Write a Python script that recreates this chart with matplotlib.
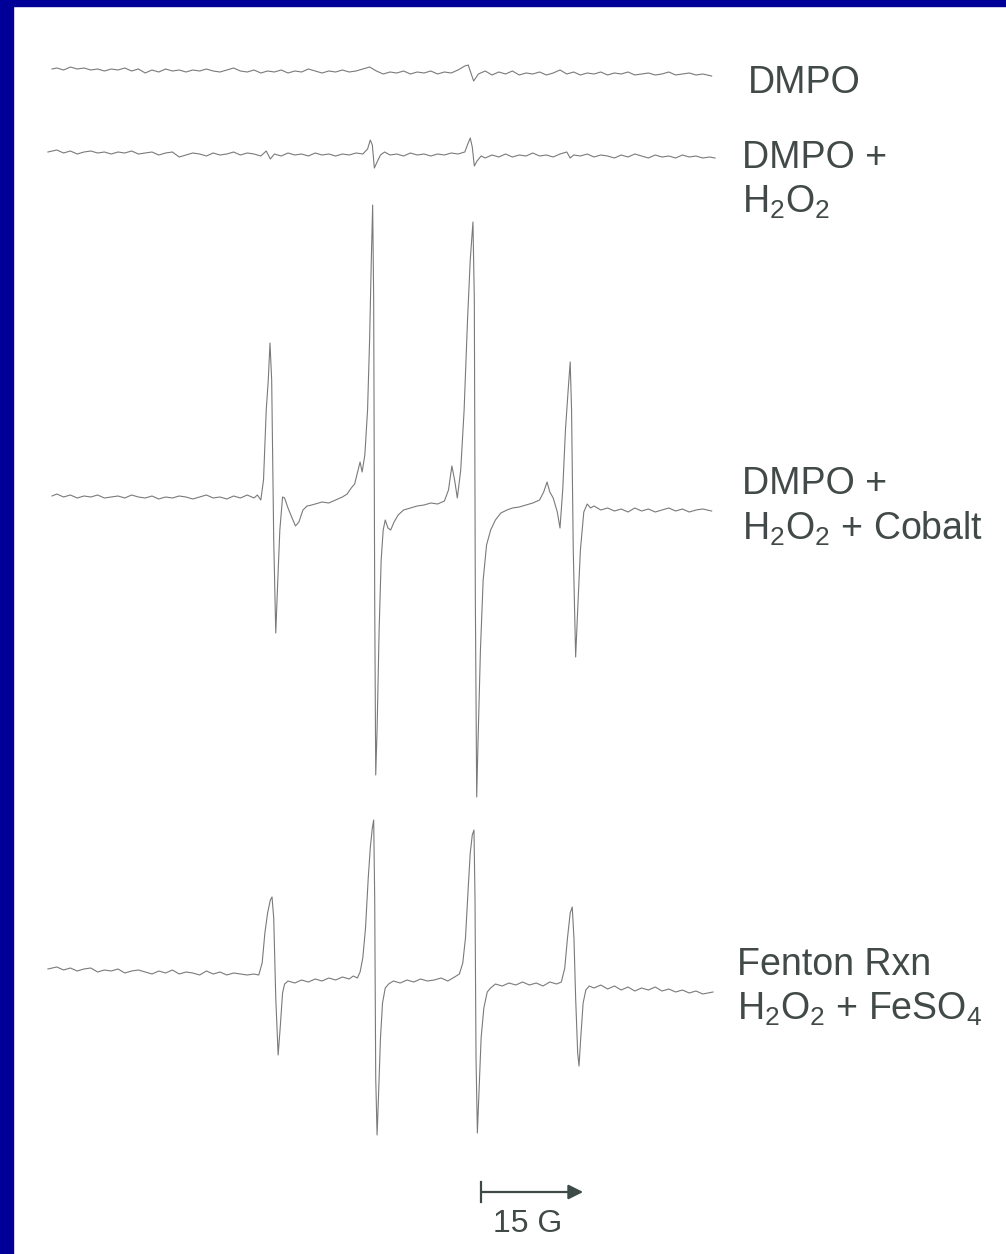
import numpy as np
import matplotlib
matplotlib.use("Agg")
import matplotlib.pyplot as plt
from matplotlib.patches import Rectangle

plt.rcParams['font.family'] = ['Liberation Sans', 'DejaVu Sans']
plt.rcParams['mathtext.default'] = 'regular'

# ---- spectra: field (G, from start of sweep), signal (a.u.) ----
dmpo_field = [0.3, 1, 2, 3, 4, 5, 6, 7, 8, 9, 10, 11, 12, 13, 14, 15, 16, 17, 18, 19,
              20, 21, 22, 23, 24, 25, 26, 27, 28, 29, 30, 31, 32, 33, 34, 35, 36, 37, 38, 39,
              40, 41, 42, 43, 44, 45, 46, 47, 48, 49, 50, 51, 52, 53, 54, 55, 56, 57, 58, 59,
              60, 61, 61.5, 62.3, 63, 64, 65, 66, 67, 68, 69, 70, 71, 72, 73, 74, 75, 76, 77,
              78, 79, 80, 81, 82, 83, 84, 85, 86, 87, 88, 89, 90, 91, 92, 93, 94, 95, 96, 97.3]
dmpo_signal = [3, 4, 2, 5, 3, 4, 2, 3, 1, 3, 2, 4, 1, 3, -1, 2, 0, 3, 1, 2,
               0, 2, 1, 3, 1, 0, 2, 4, 1, 0, 2, -1, 1, 0, 2, -1, 1, 0, 3, 1,
               -1, 1, 0, 2, 0, 1, 3, 5, 1, -2, 0, -1, 1, -2, 0, -1, 1, -2, 0, -1,
               2, 6, 7, -9, -2, 1, -3, 0, -2, 1, -3, -1, -2, 0, -3, -1, 2, -2, 0,
               -3, -1, -2, 0, -3, -1, -2, 0, -3, -2, -1, -3, -2, 0, -3, -2, -1, -3, -2, -4]

h2o2_field = [-0.3, 1, 2, 3, 4, 5, 6, 7, 8, 9, 10, 11, 12, 13, 14, 15, 16, 17, 18, 19,
              20, 21, 22, 23, 24, 25, 26, 27, 28, 29, 30, 31, 31.8, 32.4, 33, 34, 35, 36, 37,
              38, 39, 40, 41, 42, 43, 44, 45, 46, 46.7, 47.1, 47.4, 47.7, 48.1, 48.6, 49.2,
              50, 51, 52, 53, 54, 55, 56, 57, 58, 59, 60, 61, 61.5, 61.8, 62.1, 62.4, 62.8,
              63.4, 64, 65, 66, 67, 68, 69, 70, 71, 72, 73, 74, 75, 76, 76.5, 77, 78, 79,
              80, 81, 82, 83, 84, 85, 86, 87, 88, 89, 90, 91, 92, 93, 94, 95, 96, 97, 97.8]
h2o2_signal = [3, 5, 2, 4, 1, 3, 4, 2, 3, 1, 3, 2, 4, 1, 2, 3, 0, 2, 3, -2,
               0, 2, 1, -1, 2, 0, 1, 3, 0, 2, 1, -1, 4, -4, 1, -1, 2, 0, 1,
               -1, 2, 0, 1, -1, 1, 0, 2, 1, 6, 15, 10, -13, -7, 0, 3,
               0, 1, -1, 2, 0, 1, -1, 1, 0, 2, 1, 3, 12, 17, 8, -11, -6,
               -1, -3, 0, -2, 1, -2, 0, -1, 2, -1, 0, -2, 1, 3, -3, 0, -1, 1,
               -2, 0, -1, -3, 0, -2, 1, -1, -3, 0, -2, -1, -3, 0, -2, -1, -3, -2, -3]

cobalt_field = [0.3, 1, 2, 3, 4, 5, 6, 7, 8, 9, 10, 11, 12, 13, 14, 15, 16, 17, 18, 19,
                20, 21, 22, 23, 24, 25, 26, 27, 28, 29, 30, 30.5, 31, 31.4, 31.8, 32.1, 32.35,
                32.6, 32.9, 33.2, 33.5, 33.8, 34.2, 34.5, 35, 35.6, 36.1, 36.6, 37.2, 37.8,
                38.5, 39, 40, 41, 42, 43, 43.7, 44.3, 44.8, 45.3, 45.6, 45.9, 46.3, 46.7, 47.0,
                47.25, 47.45, 47.6, 47.75, 47.9, 48.1, 48.4, 48.7, 49.0, 49.3, 49.7, 50.1, 50.6,
                51.2, 52, 53, 54, 55, 56, 57, 58, 58.6, 59.1, 59.5, 59.9, 60.4, 60.9, 61.4, 61.8,
                62.2, 62.4, 62.55, 62.75, 62.95, 63.3, 63.7, 64.2, 64.8, 65.5, 66.3, 67.2, 68,
                69, 70, 71, 72, 72.6, 73.1, 73.5, 74, 74.6, 75, 75.4, 75.8, 76.2, 76.5, 76.7,
                76.95, 77.3, 77.6, 78, 78.5, 79, 79.5, 80, 81, 82, 83, 84, 85, 86, 87, 88, 89,
                90, 91, 92, 93, 94, 95, 96, 97.3]
cobalt_signal = [4, 6, 3, 5, 2, 4, 3, 5, 2, 3, 4, 2, 5, 3, 2, 4, 1, 3, 2, 4,
                 3, 1, 3, 5, 2, 3, 1, 4, 2, 5, 2, 5, 0, 20, 90, 120, 157,
                 120, -40, -133, -80, -30, 3, 2, -8, -18, -26, -22, -10, -6,
                 -5, -4, -2, -3, 0, 3, 6, 12, 16, 30, 38, 28, 45, 90, 160,
                 240, 295, 200, -100, -275, -230, -130, -60, -30, -20, -28, -30, -22,
                 -15, -10, -8, -6, -5, -3, -4, -1, 10, 34, 20, 2, 30, 90, 180, 240,
                 278, 200, -100, -297, -240, -150, -80, -45, -30, -20, -13, -10, -8,
                 -7, -5, -3, 0, 8, 18, 8, 2, -12, -28, 10, 70, 110, 138, 90,
                 -50, -157, -110, -50, -12, -4, -8, -6, -10, -8, -11, -9, -12, -8, -11, -9, -12,
                 -10, -8, -11, -9, -12, -10, -9, -11]

fenton_field = [-0.3, 1, 2, 3, 4, 5, 6, 7, 8, 9, 10, 11, 12, 13, 14, 15, 16, 17, 18, 19,
                20, 21, 22, 23, 24, 25, 26, 27, 28, 29, 30, 30.7, 31.2, 31.6, 32, 32.4, 32.65,
                32.9, 33.2, 33.55, 33.85, 34.2, 34.5, 35, 36, 37, 38, 39, 40, 41, 42, 43, 44,
                44.6, 45.2, 45.6, 46, 46.4, 46.8, 47.1, 47.4, 47.6, 47.75, 47.9, 48.1, 48.3,
                48.6, 48.9, 49.3, 49.8, 50.5, 51.5, 52.5, 53.5, 54.5, 55.5, 56.5, 57.5, 58.5,
                59.5, 60.2, 60.7, 61.1, 61.5, 61.8, 62.1, 62.35, 62.5, 62.65, 62.85, 63.05,
                63.4, 63.8, 64.3, 64.8, 65.5, 66.5, 67.5, 68.5, 69.5, 70.5, 71.5, 72.5, 73.5,
                74.5, 75.2, 75.7, 76.1, 76.5, 76.8, 77.05, 77.3, 77.6, 77.8, 78.05, 78.4, 78.8,
                79.3, 80, 81, 82, 83, 84, 85, 86, 87, 88, 89, 90, 91, 92, 93, 94, 95, 96, 97.5]
fenton_signal = [9, 11, 8, 10, 7, 9, 10, 6, 8, 7, 9, 5, 7, 8, 6, 4, 7, 5, 8, 4,
                 6, 5, 3, 7, 4, 6, 3, 5, 4, 3, 4, 3, 15, 45, 65, 78, 81,
                 60, -20, -77, -50, -15, -6, -3, -5, -2, -4, -1, -3, 0, -2, 1, -1,
                 2, 0, 6, 20, 50, 100, 130, 150, 158, 80, -100, -157, -120,
                 -60, -25, -10, -6, -3, -5, -2, -4, -1, -3, -2, 0, -3,
                 1, 4, 15, 40, 90, 125, 143, 148, 80, -80, -155, -120,
                 -60, -30, -14, -10, -6, -8, -5, -7, -4, -7, -5, -8, -4,
                 -6, -4, 10, 40, 65, 71, 40, -20, -75, -88, -60, -25, -12,
                 -8, -10, -7, -11, -8, -12, -9, -13, -10, -12, -9, -13, -11, -14, -12, -15, -13, -16, -14]

traces = [dmpo_field, h2o2_field, cobalt_field, fenton_field]
signals = [dmpo_signal, h2o2_signal, cobalt_signal, fenton_signal]
labels = [["DMPO"],
          ["DMPO +", r"H$_2$O$_2$"],
          ["DMPO +", r"H$_2$O$_2$ + Cobalt"],
          ["Fenton Rxn", r"H$_2$O$_2$ + FeSO$_4$"]]
scale_bar_gauss = 15

# ---- layout (vertical offsets of baselines, label anchors) ----
W, H = 1006, 1254
px_per_G = 6.8
x0_px = 50
offsets = [1182, 1099, 754, 276]
label_x = [102.7, 101.7, 101.7, 101.0]
label_y = [[1161], [1086, 1041], [760, 714], [279, 234]]

fig = plt.figure(figsize=(W / 100, H / 100), dpi=100)
ax = fig.add_axes([0, 0, 1, 1])
ax.set_xlim(-x0_px / px_per_G, (W - x0_px) / px_per_G)
ax.set_ylim(0, H)
ax.axis('off')

for fld, sig, off in zip(traces, signals, offsets):
    ax.plot(fld, np.array(sig) + off, color='#7a7a7a', lw=0.8)

txt_color = '#414a48'
for lab, lx, lys in zip(labels, label_x, label_y):
    for line, ly in zip(lab, lys):
        ax.text(lx, ly, line, fontsize=27, color=txt_color, ha='left', va='baseline')

# scale bar
bar_start = 63.4
bar_y = 62
ax.annotate('', xy=(bar_start + scale_bar_gauss, bar_y), xytext=(bar_start, bar_y),
            arrowprops=dict(arrowstyle='-|>', color='#3d4a47', lw=1.6,
                            mutation_scale=22, shrinkA=0, shrinkB=0))
ax.plot([bar_start, bar_start], [bar_y - 10, bar_y + 10], color='#3d4a47', lw=1.6)
ax.text(bar_start + scale_bar_gauss / 2 - 0.6, 22, "%d G" % scale_bar_gauss, fontsize=23,
        color=txt_color, ha='center', va='baseline')

# blue slide border (left and top)
fig.patches.append(Rectangle((0, 0), 13 / W, 1, transform=fig.transFigure,
                             color='#000099', zorder=10))
fig.patches.append(Rectangle((0, 1 - 6 / H), 1, 6 / H, transform=fig.transFigure,
                             color='#000099', zorder=10))

fig.savefig("out.png", dpi=100, facecolor='white')
